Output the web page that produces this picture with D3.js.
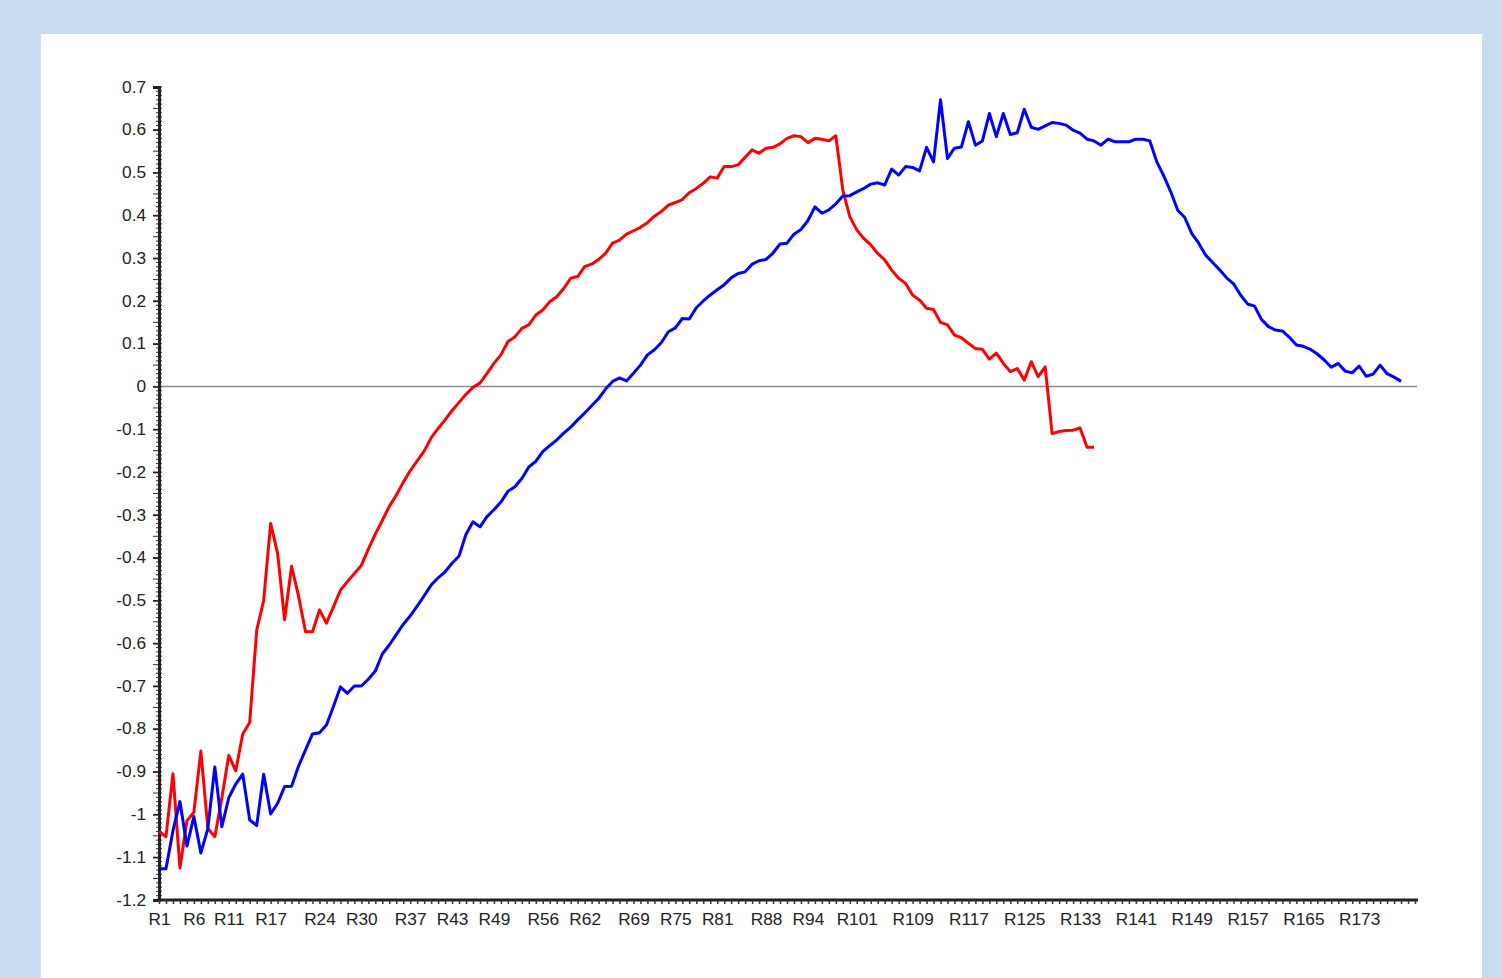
<!DOCTYPE html>
<html>
<head>
<meta charset="utf-8">
<script src="https://cdn.jsdelivr.net/npm/d3@7"></script>
<style>
  html, body { margin: 0; padding: 0; background: #c8ddf1; }
  body { width: 1502px; height: 978px; overflow: hidden; position: relative; }
  #panel { position: absolute; left: 41px; top: 34px; width: 1441px; height: 944px; background: #ffffff; }
  svg { position: absolute; left: 0; top: 0; }
  text { font-family: "Liberation Sans", Arial, sans-serif; fill: #222; }
</style>
</head>
<body>
<div id="panel"></div>
<svg id="chart" width="1502" height="978"></svg>
<script>
// Category names R1..R181 along the x axis
const categories = d3.range(1, 182).map(i => "R" + i);

// Category labels that are printed under the axis
const xLabels = ["R1","R6","R11","R17","R24","R30","R37","R43","R49","R56","R62","R69","R75",
  "R81","R88","R94","R101","R109","R117","R125","R133","R141","R149","R157","R165","R173"];

// Y axis tick values
const yTicks = [0.7,0.6,0.5,0.4,0.3,0.2,0.1,0,-0.1,-0.2,-0.3,-0.4,-0.5,-0.6,-0.7,-0.8,-0.9,-1,-1.1,-1.2];

// Red series: R1..R135
const redSeries = [
  -1.04,-1.052,-0.905,-1.125,-1.015,-0.995,-0.852,-1.033,-1.052,-0.962,-0.862,-0.898,-0.812,-0.785,
  -0.57,-0.50,-0.32,-0.39,-0.545,-0.42,-0.49,-0.573,-0.573,-0.522,-0.553,-0.515,-0.476,
  -0.456,-0.437,-0.418,-0.38,-0.345,-0.313,-0.28,-0.254,-0.224,-0.197,-0.174,-0.151,-0.12,-0.098,
  -0.078,-0.056,-0.037,-0.018,-0.002,
  0.008,0.031,0.054,0.074,0.105,0.116,0.136,0.144,0.167,0.179,0.198,0.210,0.229,0.253,0.257,
  0.280,0.286,0.297,0.311,0.335,0.342,0.356,0.364,0.372,0.383,0.398,0.409,0.424,0.430,0.437,
  0.453,0.463,0.475,0.490,0.487,0.514,0.514,0.518,0.536,0.553,0.545,0.557,0.559,0.567,0.580,
  0.586,0.584,0.570,0.580,0.578,0.574,0.586,
  0.459,0.397,0.366,0.346,0.331,0.311,0.296,0.272,0.253,0.241,0.214,0.202,0.183,0.180,0.150,
  0.144,0.120,0.114,0.101,0.089,0.087,0.064,0.078,0.054,0.035,0.042,0.015,0.058,0.023,0.046,
  -0.11,-0.105,-0.103,-0.102,-0.097,-0.142,-0.142
];

// Blue series: R1..R179
const blueSeries = [
  -1.127,-1.127,-1.038,-0.970,-1.074,-1.005,-1.090,-1.033,-0.889,-1.029,-0.961,-0.929,-0.906,
  -1.013,-1.026,-0.906,-0.999,-0.974,-0.935,-0.934,-0.887,-0.849,-0.812,-0.809,-0.791,-0.748,
  -0.702,-0.717,-0.700,-0.700,-0.684,-0.665,
  -0.625,-0.604,-0.58,-0.556,-0.536,-0.513,-0.489,-0.464,-0.447,-0.433,-0.413,-0.396,-0.345,
  -0.316,-0.328,-0.304,-0.288,-0.27,
  -0.245,-0.234,-0.215,-0.188,-0.175,-0.152,-0.138,-0.125,-0.109,-0.095,-0.078,-0.062,-0.045,
  -0.028,-0.006,0.012,0.02,0.013,0.031,0.05,0.074,0.086,0.103,0.128,0.137,0.159,0.158,0.184,
  0.2,0.214,0.226,0.238,0.254,0.264,0.268,0.286,0.294,0.297,0.312,0.333,0.335,0.356,0.367,
  0.388,0.42,0.405,0.413,0.427,0.445,0.446,0.455,0.463,0.473,0.476,
  0.471,0.508,0.494,0.514,0.512,0.504,0.559,0.525,0.670,0.533,0.557,0.560,0.619,0.564,0.574,
  0.638,0.584,0.638,0.589,0.593,0.648,0.606,0.601,0.609,0.617,0.615,0.611,0.599,0.592,0.578,
  0.574,0.564,0.578,0.572,0.572,0.572,0.578,0.578,0.574,
  0.525,0.492,0.455,0.412,0.395,0.358,0.335,0.307,0.29,0.273,0.254,0.24,0.214,0.193,0.188,
  0.157,0.14,0.132,0.13,0.115,0.097,0.094,0.087,0.076,0.062,0.045,0.054,0.036,0.032,0.048,
  0.024,0.029,0.05,0.03,0.022,0.012
];

const svg = d3.select("#chart");

const x = d3.scalePoint().domain(categories).range([159, 1415]);
const y = d3.scaleLinear().domain([-1.2, 0.7]).range([900, 87]);

const fmt = d => String(+d.toFixed(2));

// Zero reference line
svg.append("line")
  .attr("x1", x(categories[0])).attr("x2", x(categories[categories.length - 1]) + 2)
  .attr("y1", y(0)).attr("y2", y(0))
  .attr("stroke", "#8a8a8a").attr("stroke-width", 1.5);

// Minor ticks on the y axis
const minor = d3.range(-120, 71).map(v => v / 100);
svg.append("g").selectAll("line").data(minor).join("line")
  .attr("x1", d => Math.round(d * 100) % 5 === 0 ? 153 : 156)
  .attr("x2", 162)
  .attr("y1", d => y(d)).attr("y2", d => y(d))
  .attr("stroke", "#333").attr("stroke-width", 1);

// Y axis
const yAxis = svg.append("g")
  .attr("transform", "translate(159,0)")
  .call(d3.axisLeft(y).tickValues(yTicks).tickFormat(fmt).tickSize(6).tickPadding(6));
yAxis.select(".domain").attr("stroke", "#222").attr("stroke-width", 3);
yAxis.selectAll(".tick line").attr("stroke", "#222").attr("stroke-width", 1.5);
yAxis.selectAll(".tick text")
  .style("font-family", "'Liberation Sans', Arial, sans-serif")
  .style("font-size", "16px").attr("fill", "#222")
  .attr("transform", "scale(1.08,1)");

// X axis with a tick at every category
const xAxis = svg.append("g")
  .attr("transform", "translate(0,900)")
  .call(d3.axisBottom(x).tickValues(categories)
    .tickFormat(d => xLabels.includes(d) ? d : "").tickSize(4).tickSizeOuter(0).tickPadding(10));
xAxis.select(".domain").attr("stroke", "#222").attr("stroke-width", 3)
  .attr("d", "M157,0H1418");
xAxis.selectAll(".tick line").attr("stroke", "#333").attr("stroke-width", 1.5);
xAxis.selectAll(".tick text")
  .style("font-family", "'Liberation Sans', Arial, sans-serif")
  .style("font-size", "16px").attr("fill", "#222")
  .attr("transform", "scale(1.08,1)");

// Series lines
const line = d3.line()
  .x((d, i) => x(categories[i]))
  .y(d => y(d));

svg.append("path").datum(redSeries)
  .attr("fill", "none").attr("stroke", "#ff0000").attr("stroke-width", 3)
  .attr("stroke-linejoin", "round")
  .attr("d", line);

svg.append("path").datum(blueSeries)
  .attr("fill", "none").attr("stroke", "#0000ff").attr("stroke-width", 3)
  .attr("stroke-linejoin", "round")
  .attr("d", line);
</script>
</body>
</html>
